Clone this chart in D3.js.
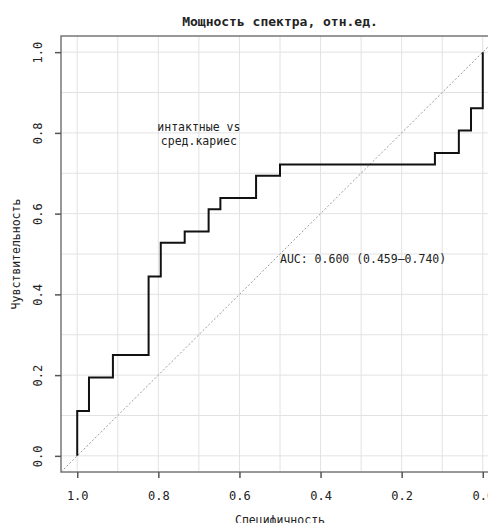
<!DOCTYPE html>
<html>
<head>
<meta charset="utf-8">
<script src="https://cdn.jsdelivr.net/npm/d3@7"></script>
<style>
body { margin: 0; background: #fff; }
text { font-family: "DejaVu Sans Mono", monospace; fill: #222; }
</style>
</head>
<body>
<div id="chart-area"></div>
<script>
// ROC corner points (specificity, sensitivity)
var specificity = [1.0, 0.971, 0.912, 0.824, 0.794, 0.735, 0.676, 0.647, 0.559, 0.500, 0.118, 0.059, 0.029, 0.0, 0.0];
var sensitivity = [0.0, 0.111, 0.194, 0.250, 0.444, 0.528, 0.556, 0.611, 0.639, 0.694, 0.722, 0.750, 0.806, 0.861, 1.0];
var tickValues = [1.0, 0.8, 0.6, 0.4, 0.2, 0.0];
var gridValues = [0, 0.1, 0.2, 0.3, 0.4, 0.5, 0.6, 0.7, 0.8, 0.9, 1.0];
var title = "Мощность спектра, отн.ед.";
var xTitle = "Специфичность";
var yTitle = "Чувствительность";
var groupLabel = ["интактные vs", "сред.кариес"];
var aucLabel = "AUC: 0.600 (0.459\u20130.740)";

var svg = d3.select("#chart-area").append("svg")
	.attr("width", 488)
	.attr("height", 523);

var x = d3.scaleLinear()
	.domain([1.04, -0.04])
	.range([61, 499]);

var y = d3.scaleLinear()
	.domain([-0.04, 1.04])
	.range([472, 36]);

// grid
svg.selectAll(".gx").data(gridValues).enter().append("line")
	.attr("x1", d => x(d)).attr("x2", d => x(d))
	.attr("y1", 36).attr("y2", 472)
	.attr("stroke", "#e2e2e2").attr("stroke-width", 1);
svg.selectAll(".gy").data(gridValues).enter().append("line")
	.attr("x1", 61).attr("x2", 499)
	.attr("y1", d => y(d)).attr("y2", d => y(d))
	.attr("stroke", "#e2e2e2").attr("stroke-width", 1);

// diagonal
svg.append("line")
	.attr("x1", x(1.04)).attr("y1", y(-0.04))
	.attr("x2", x(-0.04)).attr("y2", y(1.04))
	.attr("stroke", "#999").attr("stroke-width", 1)
	.attr("stroke-dasharray", "2,2");

// frame
svg.append("rect")
	.attr("x", 61).attr("y", 36)
	.attr("width", 438).attr("height", 436)
	.attr("fill", "none").attr("stroke", "#777").attr("stroke-width", 1.5);

// axes
var xAxis = svg.append("g")
	.attr("transform", "translate(0,472)")
	.call(d3.axisBottom(x).tickValues(tickValues).tickFormat(d3.format(".1f")).tickSize(6).tickPadding(13));
xAxis.select(".domain").remove();
xAxis.selectAll("line").attr("stroke", "#555").attr("stroke-width", 1.5);
xAxis.selectAll("text").attr("font-size", 12).attr("font-family", "DejaVu Sans Mono").attr("fill", "#222");

var yAxis = svg.append("g")
	.attr("transform", "translate(61,0)")
	.call(d3.axisLeft(y).tickValues(tickValues).tickFormat(d3.format(".1f")).tickSize(6));
yAxis.select(".domain").remove();
yAxis.selectAll("line").attr("stroke", "#555").attr("stroke-width", 1.5);
yAxis.selectAll("text")
	.attr("x", null).attr("dy", null)
	.attr("text-anchor", "middle")
	.attr("transform", "translate(-19,0) rotate(-90)")
	.attr("font-size", 12).attr("font-family", "DejaVu Sans Mono").attr("fill", "#222");

// ROC curve
var line = d3.line()
	.x(d => x(d[0]))
	.y(d => y(d[1]))
	.curve(d3.curveStepBefore);

svg.append("path")
	.datum(d3.zip(specificity, sensitivity))
	.attr("d", line)
	.attr("fill", "none")
	.attr("stroke", "#111")
	.attr("stroke-width", 2);

// texts
svg.append("text")
	.attr("x", 280).attr("y", 26)
	.attr("text-anchor", "middle")
	.attr("font-size", 13).attr("font-weight", "bold")
	.text(title);

svg.append("text")
	.attr("x", 280).attr("y", 524)
	.attr("text-anchor", "middle")
	.attr("font-size", 11.5)
	.text(xTitle);

svg.append("text")
	.attr("transform", "translate(20,254) rotate(-90)")
	.attr("text-anchor", "middle")
	.attr("font-size", 11.5)
	.text(yTitle);

svg.selectAll(".grp").data(groupLabel).enter().append("text")
	.attr("x", x(0.7))
	.attr("y", (d, i) => y(0.8) - 2 + i * 14)
	.attr("text-anchor", "middle")
	.attr("font-size", 11.5)
	.text(d => d);

svg.append("text")
	.attr("x", x(0.5)).attr("y", y(0.5) + 9)
	.attr("font-size", 11.5)
	.text(aucLabel);
</script>
</body>
</html>
